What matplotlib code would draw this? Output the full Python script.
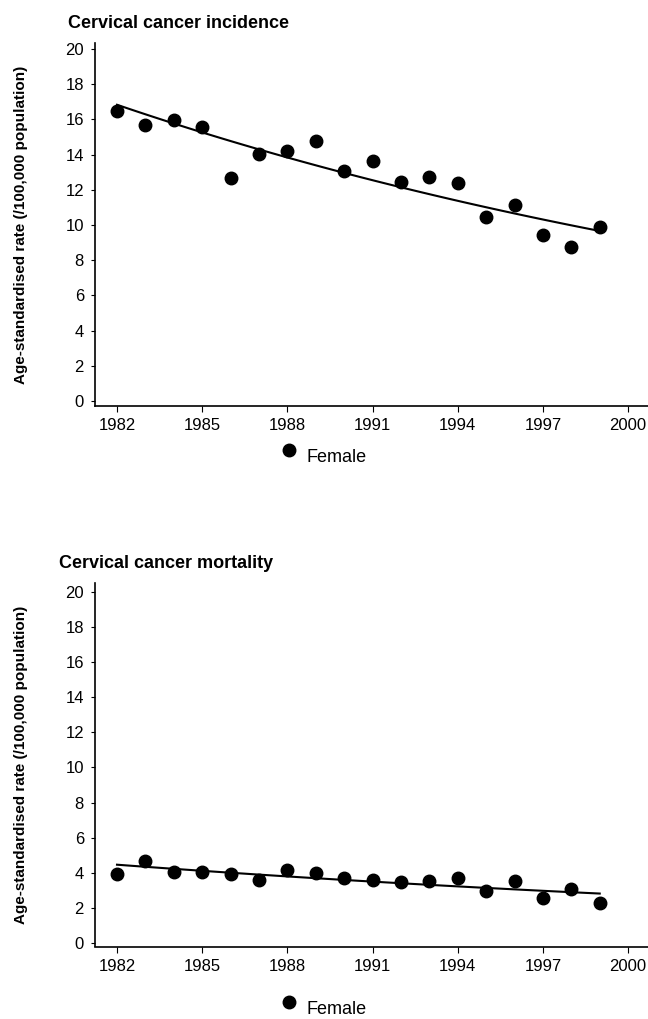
import numpy as np
import matplotlib
matplotlib.use("Agg")
import matplotlib.pyplot as plt

plt.rcParams['font.family'] = ['Liberation Sans', 'DejaVu Sans']

years = np.arange(1982, 2000)

# incidence (per 100,000)
incidence = [16.5, 15.7, 15.94, 15.55, 12.68, 14.06, 14.2, 14.8, 13.04,
             13.64, 12.43, 12.74, 12.36, 10.43, 11.15, 9.42, 8.75, 9.89]

# mortality (per 100,000)
mortality = [3.93, 4.65, 4.03, 4.03, 3.91, 3.57, 4.16, 3.99, 3.70,
             3.57, 3.48, 3.52, 3.72, 2.95, 3.53, 2.55, 3.10, 2.29]

titles = ["Cervical cancer incidence", "Cervical cancer mortality"]
ylabel = "Age-standardised rate (/100,000 population)"
xticks = [1982, 1985, 1988, 1991, 1994, 1997, 2000]
yticks = [0, 2, 4, 6, 8, 10, 12, 14, 16, 18, 20]

W, H = 648, 1019
fig = plt.figure(figsize=(W / 100, H / 100), dpi=100)


def px(x, y):
    # pixel coords (from top-left) -> figure fraction
    return x / W, 1 - y / H


def trend(x, y):
    # log-linear fit, drawn as a smooth curve
    b, a = np.polyfit(x - x[0], np.log(y), 1)
    xs = np.linspace(x[0], x[-1], 100)
    return xs, np.exp(a + b * (xs - x[0]))


def panel(rect, data, title, title_xy, ylim, legend_y):
    ax = fig.add_axes(rect)
    ax.plot(years, data, 'o', color='black', markersize=9, clip_on=False)
    xs, ys = trend(years, np.array(data))
    ax.plot(xs, ys, '-', color='black', linewidth=1.5)
    ax.set_xlim(1981.225, 2000.7)
    ax.set_ylim(*ylim)
    ax.set_xticks(xticks)
    ax.set_yticks(yticks)
    for s in ['top', 'right']:
        ax.spines[s].set_visible(False)
    for s in ['left', 'bottom']:
        ax.spines[s].set_linewidth(1.2)
    ax.tick_params(axis='y', direction='out', length=3, width=0.8,
                   labelsize=12, pad=5)
    ax.tick_params(axis='x', direction='out', length=4, width=0.8,
                   labelsize=12, pad=5)
    fx, fy = px(*title_xy)
    fig.text(fx, fy, title, fontsize=13, fontweight='bold',
             ha='left', va='center')
    cy = rect[1] + rect[3] / 2
    fig.text(21 / W, cy, ylabel, rotation=90, fontsize=11, fontweight='bold',
             ha='center', va='center')
    # legend key
    mx, my = px(289, legend_y)
    fig.lines.append(plt.Line2D([mx], [my], marker='o', color='black',
                                markersize=9, linestyle='none',
                                transform=fig.transFigure))
    tx, ty = px(306, legend_y + 8)
    fig.text(tx, ty, "Female", fontsize=13, ha='left', va='center')
    return ax


l, t = px(95, 43)
r, b = px(648, 406)
panel([l, b, r - l, t - b], incidence, titles[0], (68, 23),
      (-0.284, 20.34), 450)

l, t = px(95, 583)
r, b = px(648, 946.5)
panel([l, b, r - l, t - b], mortality, titles[1], (59, 564),
      (-0.2, 20.51), 1002)

fig.savefig("out.png", dpi=100)
